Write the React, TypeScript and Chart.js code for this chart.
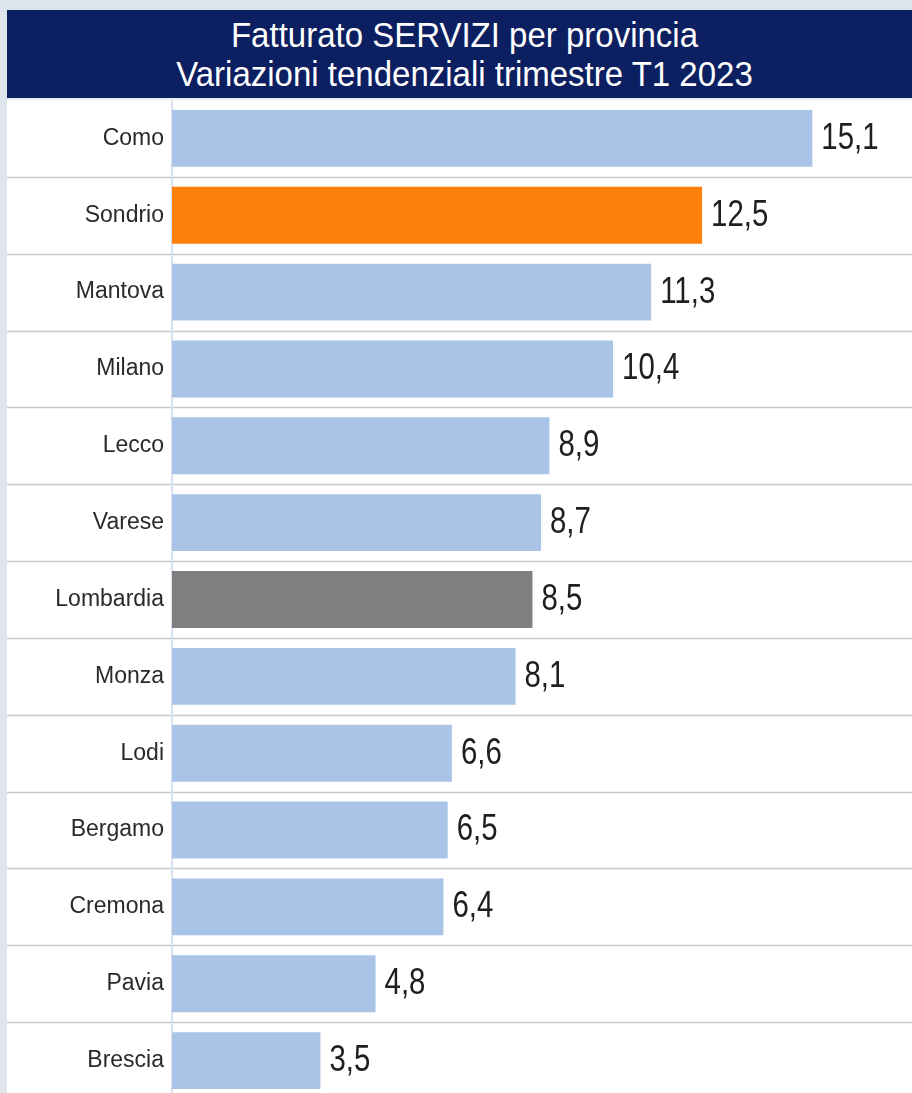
import React, { useEffect, useRef } from "react";
import { Chart, registerables } from "chart.js";

Chart.register(...registerables);

const titleLines = ["Fatturato SERVIZI per provincia", "Variazioni tendenziali trimestre T1 2023"];
const categories = [
  "Como", "Sondrio", "Mantova", "Milano", "Lecco", "Varese", "Lombardia",
  "Monza", "Lodi", "Bergamo", "Cremona", "Pavia", "Brescia",
];
const values = [15.1, 12.5, 11.3, 10.4, 8.9, 8.7, 8.5, 8.1, 6.6, 6.5, 6.4, 4.8, 3.5];
const highlightProvince = "Sondrio";
const regionTotal = "Lombardia";

const FONT = "'Liberation Sans', Arial, sans-serif";
const BLUE = "#a9c4e7";
const ORANGE = "#fd7f0c";
const GREY = "#7f7f7f";

const fmt = (v: number) => v.toFixed(1).replace(".", ",");

const decorPlugin = {
  id: "decor",
  beforeDatasetsDraw(chart: any) {
    const { ctx, chartArea, width } = chart;
    const y = chart.scales.y;
    const n = categories.length;
    ctx.save();
    ctx.strokeStyle = "#c9c9c9";
    ctx.lineWidth = 1.5;
    for (let i = 1; i < n; i++) {
      const p = (y.getPixelForValue(i - 1) + y.getPixelForValue(i)) / 2;
      ctx.beginPath();
      ctx.moveTo(0, Math.round(p) + 0.5);
      ctx.lineTo(width, Math.round(p) + 0.5);
      ctx.stroke();
    }
    ctx.strokeStyle = "#d8e2ee";
    ctx.lineWidth = 2;
    ctx.beginPath();
    ctx.moveTo(chartArea.left, chartArea.top);
    ctx.lineTo(chartArea.left, chartArea.bottom);
    ctx.stroke();
    ctx.restore();
  },
  afterDatasetsDraw(chart: any) {
    const { ctx } = chart;
    const meta = chart.getDatasetMeta(0);
    ctx.save();
    ctx.fillStyle = "#1e1e1e";
    ctx.textBaseline = "middle";
    ctx.textAlign = "left";
    ctx.font = `35px ${FONT}`;
    meta.data.forEach((bar: any, i: number) => {
      const x = bar.x + 9;
      const yy = bar.y;
      ctx.save();
      ctx.translate(x, yy);
      ctx.scale(0.84, 1.08);
      ctx.fillText(fmt(values[i]), 0, 0);
      ctx.restore();
    });
    ctx.restore();
  },
};

export default function App() {
  const ref = useRef<HTMLCanvasElement>(null);

  useEffect(() => {
    document.body.style.margin = "0";
    document.body.style.background = "#dfe5ec";
    const canvas = ref.current!;
    const chart = new Chart(canvas, {
      type: "bar",
      data: {
        labels: categories,
        datasets: [
          {
            data: values,
            backgroundColor: categories.map((c) =>
              c === highlightProvince ? ORANGE : c === regionTotal ? GREY : BLUE
            ),
            borderWidth: 0,
            barPercentage: 0.74,
            categoryPercentage: 1,
          },
        ],
      },
      options: {
        indexAxis: "y",
        responsive: false,
        animation: false,
        devicePixelRatio: 1,
        layout: { padding: 0 },
        plugins: {
          legend: { display: false },
          tooltip: { enabled: false },
          title: { display: false },
        },
        scales: {
          x: {
            display: false,
            min: 0,
            max: 17.45,
          },
          y: {
            grid: { display: false, drawTicks: false },
            border: { display: false },
            ticks: {
              color: "#2a2a2a",
              font: { family: FONT, size: 23 },
              padding: 8,
            },
            afterFit(scale: any) {
              scale.width = 165;
              scale.paddingTop = 0;
              scale.paddingBottom = 0;
            },
          },
        },
      } as any,
      plugins: [decorPlugin],
    });
    return () => chart.destroy();
  }, []);

  return (
    <div style={{ paddingTop: 10, paddingLeft: 7, background: "#dfe5ec", width: 905 }}>
      <div
        style={{
          height: 88,
          background: "#0c1f60",
          color: "#ffffff",
          fontFamily: FONT,
          fontSize: 33,
          lineHeight: "39px",
          textAlign: "center",
          display: "flex",
          flexDirection: "column",
          justifyContent: "center",
          paddingLeft: 10,
          boxSizing: "border-box",
        }}
      >
        {titleLines.map((t) => (
          <div key={t} style={{ transform: "scaleY(1.06)" }}>{t}</div>
        ))}
      </div>
      <div style={{ height: 2, background: "#e8edf3" }} />
      <canvas
        ref={ref}
        width={905}
        height={999}
        style={{ display: "block", width: 905, height: 999, background: "#ffffff" }}
      />
    </div>
  );
}
